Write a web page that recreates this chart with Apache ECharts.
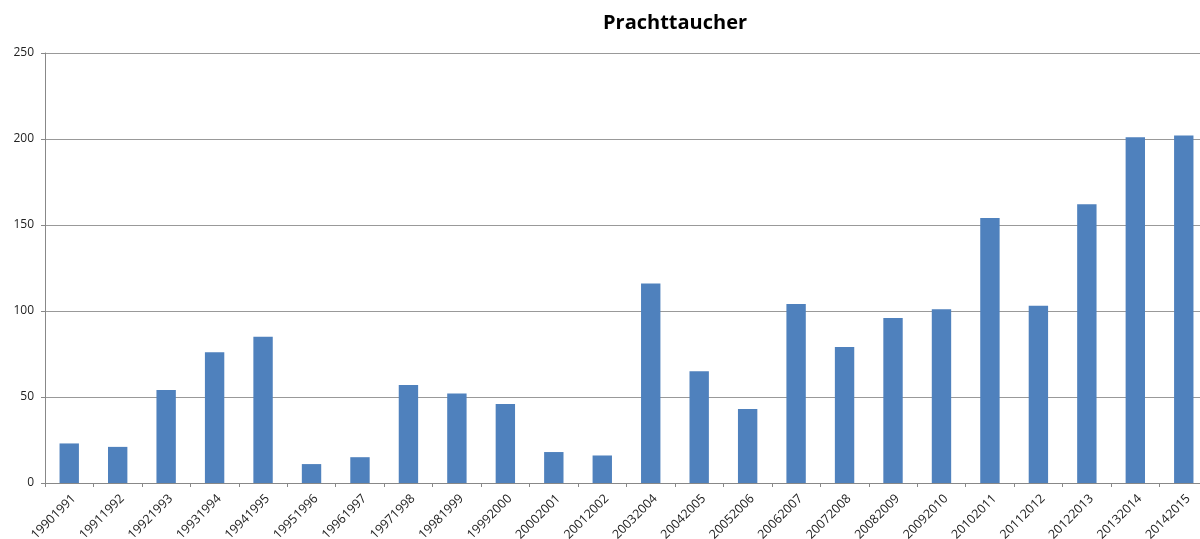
<!DOCTYPE html>
<html>
<head>
<meta charset="utf-8">
<script src="https://cdn.jsdelivr.net/npm/echarts@6/dist/echarts.min.js"></script>
<style>
html,body{margin:0;padding:0;background:#fff;overflow:hidden;}
#chart{width:1200px;height:539px;}
</style>
</head>
<body>
<div id="chart"></div>
<script>
const chartTitle = 'Prachttaucher';
const categories = ['19901991','19911992','19921993','19931994','19941995','19951996','19961997','19971998','19981999','19992000','20002001','20012002','20032004','20042005','20052006','20062007','20072008','20082009','20092010','20102011','20112012','20122013','20132014','20142015'];
const values = [23,21,54,76,85,11,15,57,52,46,18,16,116,65,43,104,79,96,101,154,103,162,201,202];
const yTicks = [0,50,100,150,200,250];

const chart = echarts.init(document.getElementById('chart'));
chart.setOption({
  animation: false,
  backgroundColor: '#fff',
  title: {
    text: chartTitle,
    left: 598,
    top: 8,
    textStyle: {fontFamily: 'Open Sans', fontWeight: 'bold', fontSize: 20, color: '#000'}
  },
  grid: {left: 45, right: -8, top: 53, bottom: 56, containLabel: false, outerBoundsMode: 'none'},
  xAxis: {
    type: 'category',
    data: categories,
    axisLine: {lineStyle: {color: '#888', width: 1}},
    axisTick: {show: true, alignWithLabel: false, length: 4, lineStyle: {color: '#888'}},
    axisLabel: {rotate: 45, align: 'right', verticalAlign: 'top', fontFamily: 'Open Sans', fontSize: 12.5, color: '#222', margin: 9, interval: 0}
  },
  yAxis: {
    type: 'value',
    min: yTicks[0],
    max: yTicks[yTicks.length - 1],
    interval: 50,
    axisLine: {show: true, lineStyle: {color: '#888', width: 1}},
    axisTick: {show: true, length: 4, lineStyle: {color: '#888'}},
    axisLabel: {fontFamily: 'Open Sans', fontSize: 12, color: '#222', margin: 11},
    splitLine: {lineStyle: {color: '#999', width: 1}}
  },
  series: [{
    type: 'bar',
    data: values,
    barCategoryGap: '60%',
    itemStyle: {color: '#4F81BD'}
  }]
});
</script>
</body>
</html>
